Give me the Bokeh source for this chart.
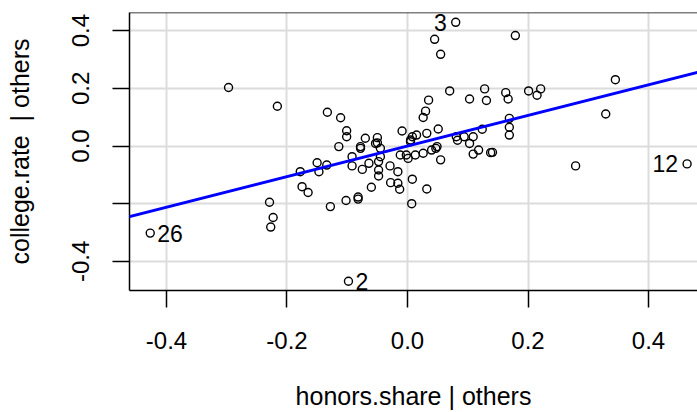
from bokeh.plotting import figure
from bokeh.models import (Range1d, FixedTicker, PrintfTickFormatter, Slope, Span,
                          ColumnDataSource)
from bokeh.core.properties import value
from bokeh.embed import file_html
from bokeh.resources import INLINE

# ---- data ----
honors_share = [
    -0.297, -0.216, 0.080, 0.045, 0.055, 0.070, 0.128, 0.103, 0.131, 0.035,
    0.030, 0.026, -0.133, -0.111, -0.101, -0.101, -0.070, -0.050, -0.050, -0.114,
    -0.078, -0.009, 0.008, 0.015, 0.032, 0.051, 0.081, 0.094, 0.109, 0.124,
    0.103, 0.049, 0.179, 0.163, 0.167, 0.201, 0.215, 0.221, 0.345, 0.329,
    0.169, 0.169, 0.169, 0.141, 0.279, 0.464, -0.427, -0.229, -0.223, -0.227,
    -0.178, -0.150, -0.147, -0.175, -0.165, -0.134, -0.128, -0.102, -0.082, -0.082,
    -0.060, -0.028, -0.016, -0.013, 0.008, 0.032, 0.007, -0.098, -0.092, -0.092,
    -0.078, -0.075, -0.064, -0.048, -0.048, -0.048, -0.045, -0.053, -0.029, -0.016,
    -0.012, -0.002, 0.001, 0.013, 0.026, 0.040, 0.047, 0.055, 0.005, 0.083,
    0.109, 0.118, 0.138, -0.045, 0.005,
]
college_rate = [
    0.203, 0.138, 0.429, 0.370, 0.318, 0.191, 0.198, 0.163, 0.158, 0.159,
    0.121, 0.099, 0.117, 0.098, 0.053, 0.032, 0.027, 0.029, 0.011, -0.002,
    -0.002, 0.052, 0.032, 0.038, 0.044, 0.059, 0.032, 0.032, 0.032, 0.058,
    0.009, -0.002, 0.383, 0.185, 0.163, 0.191, 0.176, 0.198, 0.230, 0.111,
    0.096, 0.065, 0.038, -0.022, -0.069, -0.062, -0.302, -0.195, -0.248, -0.281,
    -0.089, -0.058, -0.089, -0.141, -0.161, -0.066, -0.210, -0.189, -0.177, -0.184,
    -0.143, -0.127, -0.129, -0.150, -0.115, -0.149, -0.200, -0.469, -0.037, -0.069,
    -0.008, -0.081, -0.060, -0.054, -0.083, -0.104, -0.037, 0.009, -0.069, -0.089,
    -0.031, -0.031, -0.043, -0.031, -0.025, -0.014, -0.008, -0.048, 0.015, 0.020,
    -0.028, -0.014, -0.023, -0.008, 0.021,
]
labeled_index = [2, 45, 46, 67]
labeled_text = ["3", "12", "26", "2"]
av_slope = 0.531
tick_values = [-0.4, -0.2, 0.0, 0.2, 0.4]
x_title = "honors.share | others"
y_title = "college.rate \u00a0| others"

# ---- styles ----
label_side = ["right", "right", "left", "left"]
label_dx = [-9, -9, 7, 7]
FONT = "Liberation Sans"
X0, X1 = -0.4614, 0.4813
Y0, Y1 = -0.501, 0.463

p = figure(width=697, height=412, output_backend="svg", toolbar_location=None,
           x_range=Range1d(X0, X1), y_range=Range1d(Y0, Y1),
           min_border_left=129, min_border_right=0, min_border_top=12,
           min_border_bottom=121, background_fill_color="white",
           border_fill_color="white")
p.outline_line_color = None

for ax in (p.xaxis[0], p.yaxis[0]):
    ax.ticker = FixedTicker(ticks=tick_values)
    ax.formatter = PrintfTickFormatter(format="%.1f")
    ax.major_label_text_font = FONT
    ax.major_label_text_font_size = "24px"
    ax.major_label_text_color = "black"
    ax.major_tick_out = 17
    ax.major_tick_in = 0
    ax.major_tick_line_color = "black"
    ax.major_tick_line_width = 1.5
    ax.minor_tick_line_color = None
    ax.axis_line_color = "black"
    ax.axis_line_width = 1.5
    ax.axis_label_text_font = FONT
    ax.axis_label_text_font_size = "25px"
    ax.axis_label_text_font_style = "normal"
    ax.axis_label_text_color = "black"

p.xaxis.axis_label = x_title
p.xaxis.major_label_standoff = 24
p.xaxis.axis_label_standoff = 30
p.yaxis.axis_label = y_title
p.yaxis.major_label_orientation = "vertical"
p.yaxis.major_label_overrides = {-0.2: ""}
p.yaxis.major_label_standoff = 23
p.yaxis.axis_label_standoff = 36

p.xgrid.grid_line_color = "#dcdcdc"
p.ygrid.grid_line_color = "#dcdcdc"
p.xgrid.grid_line_width = 2
p.ygrid.grid_line_width = 2

top_edge = Span(location=Y1, dimension="width", line_color="black", line_width=1.5)
p.add_layout(top_edge)

src = ColumnDataSource(dict(x=honors_share, y=college_rate))
p.scatter("x", "y", source=src, marker="circle", size=8, fill_color=None,
          line_color="black", line_width=1.4)

p.add_layout(Slope(gradient=av_slope, y_intercept=0, line_color="blue", line_width=3))

lab = ColumnDataSource(dict(
    x=[honors_share[i] for i in labeled_index],
    y=[college_rate[i] for i in labeled_index],
    t=labeled_text, align=label_side, dx=label_dx))
p.text("x", "y", text="t", source=lab, text_align="align", x_offset="dx",
       text_baseline="middle", text_font=value(FONT), text_font_size="23px",
       text_color="black")

open("out.html", "w").write(file_html(p, INLINE))
